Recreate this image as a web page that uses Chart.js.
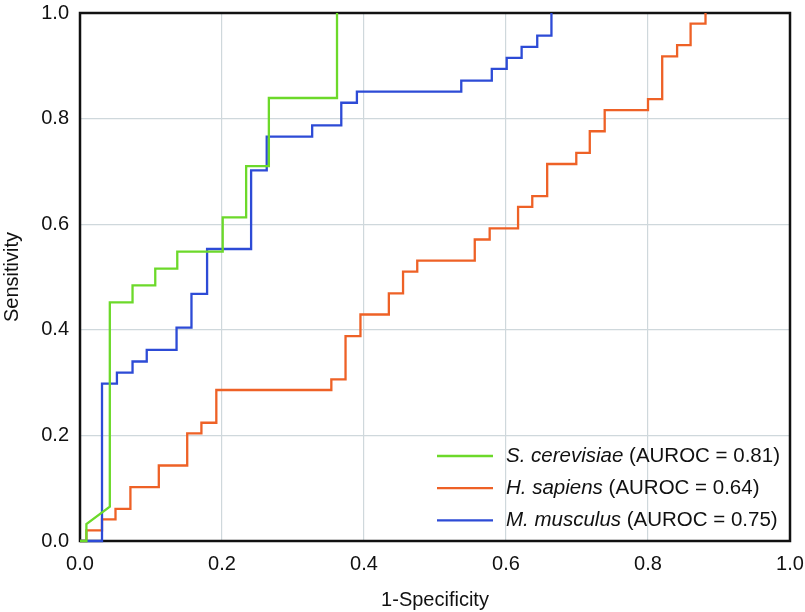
<!DOCTYPE html>
<html>
<head>
<meta charset="utf-8">
<script src="https://cdn.jsdelivr.net/npm/chart.js@4/dist/chart.umd.min.js"></script>
<style>
  html, body { margin: 0; padding: 0; background: #fff; }
  canvas { display: block; }
</style>
</head>
<body>
<canvas id="roc" width="805" height="612"></canvas>
<script>
// ROC vertices (1-specificity, sensitivity)
const scFpr = [0, 0.009, 0.009, 0.042, 0.042, 0.074, 0.074, 0.106, 0.106, 0.137, 0.137, 0.201, 0.201, 0.234, 0.234, 0.266, 0.266, 0.362, 0.362];
const scTpr = [0, 0, 0.032, 0.065, 0.452, 0.452, 0.484, 0.484, 0.516, 0.516, 0.548, 0.548, 0.613, 0.613, 0.710, 0.710, 0.839, 0.839, 1.0];

const hsFpr = [0, 0.009, 0.009, 0.031, 0.031, 0.050, 0.050, 0.071, 0.071, 0.111, 0.111, 0.151, 0.151, 0.171, 0.171, 0.192, 0.192,
  0.354, 0.354, 0.374, 0.374, 0.395, 0.395, 0.435, 0.435, 0.455, 0.455, 0.475, 0.475, 0.556, 0.556, 0.577, 0.577,
  0.617, 0.617, 0.637, 0.637, 0.658, 0.658, 0.699, 0.699, 0.718, 0.718, 0.739, 0.739, 0.800, 0.800, 0.820, 0.820,
  0.841, 0.841, 0.860, 0.860, 0.881, 0.881];
const hsTpr = [0, 0, 0.020, 0.020, 0.041, 0.041, 0.061, 0.061, 0.102, 0.102, 0.143, 0.143, 0.204, 0.204, 0.224, 0.224, 0.286,
  0.286, 0.306, 0.306, 0.388, 0.388, 0.429, 0.429, 0.469, 0.469, 0.510, 0.510, 0.531, 0.531, 0.571, 0.571, 0.592,
  0.592, 0.633, 0.633, 0.653, 0.653, 0.714, 0.714, 0.735, 0.735, 0.776, 0.776, 0.816, 0.816, 0.837, 0.837, 0.918,
  0.918, 0.939, 0.939, 0.980, 0.980, 1.0];

const mmFpr = [0, 0.031, 0.031, 0.052, 0.052, 0.074, 0.074, 0.094, 0.094, 0.136, 0.136, 0.157, 0.157, 0.179, 0.179,
  0.241, 0.241, 0.263, 0.263, 0.327, 0.327, 0.368, 0.368, 0.390, 0.390, 0.537, 0.537, 0.580, 0.580, 0.601, 0.601,
  0.622, 0.622, 0.644, 0.644, 0.664, 0.664];
const mmTpr = [0, 0, 0.298, 0.298, 0.319, 0.319, 0.340, 0.340, 0.362, 0.362, 0.404, 0.404, 0.468, 0.468, 0.553, 0.553,
  0.702, 0.702, 0.766, 0.766, 0.787, 0.787, 0.830, 0.830, 0.851, 0.851, 0.872, 0.872, 0.894, 0.894, 0.915, 0.915,
  0.936, 0.936, 0.957, 0.957, 1.0];

const species = ['S. cerevisiae', 'H. sapiens', 'M. musculus'];
const aurocs = ['0.81', '0.64', '0.75'];
const colors = ['#6cd92a', '#ee6126', '#2d4bd6'];
const axisTicks = [0, 0.2, 0.4, 0.6, 0.8, 1.0];

const FONT = "'Liberation Sans', Arial, Helvetica, sans-serif";
Chart.defaults.font.family = FONT;
Chart.defaults.font.size = 20;
Chart.defaults.color = '#111';

function toPoints(xs, ys) {
    return xs.map((x, i) => ({ x: x, y: ys[i] }));
}

// box around the plot area, drawn under the curves
const frameBox = {
    id: 'frameBox',
    beforeDatasetsDraw(chart) {
        const { ctx, chartArea: a } = chart;
        ctx.save();
        ctx.strokeStyle = '#111';
        ctx.lineWidth = 2.5;
        ctx.strokeRect(a.left, a.top, a.right - a.left, a.bottom - a.top);
        ctx.restore();
    }
};

// legend with italic species name + plain AUROC part
const mixedLegend = {
    id: 'mixedLegend',
    afterDraw(chart) {
        const ctx = chart.ctx;
        const lineX0 = 437, lineX1 = 493, textX = 506, y0 = 456, dy = 32.2;
        ctx.save();
        ctx.textBaseline = 'middle';
        ctx.textAlign = 'left';
        chart.data.datasets.forEach((ds, i) => {
            const y = y0 + i * dy;
            ctx.strokeStyle = ds.borderColor;
            ctx.lineWidth = 2.3;
            ctx.beginPath();
            ctx.moveTo(lineX0, y);
            ctx.lineTo(lineX1, y);
            ctx.stroke();
            ctx.fillStyle = '#111';
            ctx.font = 'italic 20.5px ' + FONT;
            ctx.fillText(species[i], textX, y);
            const w = ctx.measureText(species[i] + ' ').width;
            ctx.font = '20.5px ' + FONT;
            ctx.fillText('(AUROC = ' + aurocs[i] + ')', textX + w, y);
        });
        ctx.restore();
    }
};

const datasets = [
    { label: species[0], data: toPoints(scFpr, scTpr), borderColor: colors[0], order: 0 },
    { label: species[1], data: toPoints(hsFpr, hsTpr), borderColor: colors[1], order: 2 },
    { label: species[2], data: toPoints(mmFpr, mmTpr), borderColor: colors[2], order: 1 }
].map(d => Object.assign(d, { borderWidth: 2.3, pointRadius: 0, fill: false, tension: 0, clip: false }));

const gridStyle = { color: '#cfd8dc', lineWidth: 1.2, drawTicks: false };

new Chart(document.getElementById('roc'), {
    type: 'line',
    data: { datasets: datasets },
    options: {
        responsive: false,
        animation: false,
        layout: { padding: { top: 13, right: 15, left: 0, bottom: 0 } },
        plugins: { legend: { display: false }, tooltip: { enabled: false } },
        scales: {
            x: {
                type: 'linear', min: 0, max: 1,
                afterBuildTicks: s => { s.ticks = axisTicks.map(v => ({ value: v })); },
                afterFit: s => { s.height = 71; s.paddingLeft = 0; s.paddingRight = 0; },
                grid: gridStyle,
                border: { display: false },
                ticks: { padding: 11, callback: v => v.toFixed(1) },
                title: { display: true, text: '1-Specificity', padding: 0 }
            },
            y: {
                type: 'linear', min: 0, max: 1,
                afterBuildTicks: s => { s.ticks = axisTicks.map(v => ({ value: v })); },
                afterFit: s => { s.width = 80; s.paddingTop = 0; s.paddingBottom = 0; },
                grid: gridStyle,
                border: { display: false },
                ticks: { padding: 11, callback: v => v.toFixed(1) },
                title: { display: true, text: 'Sensitivity', padding: 0 }
            }
        }
    },
    plugins: [frameBox, mixedLegend]
});
</script>
</body>
</html>
